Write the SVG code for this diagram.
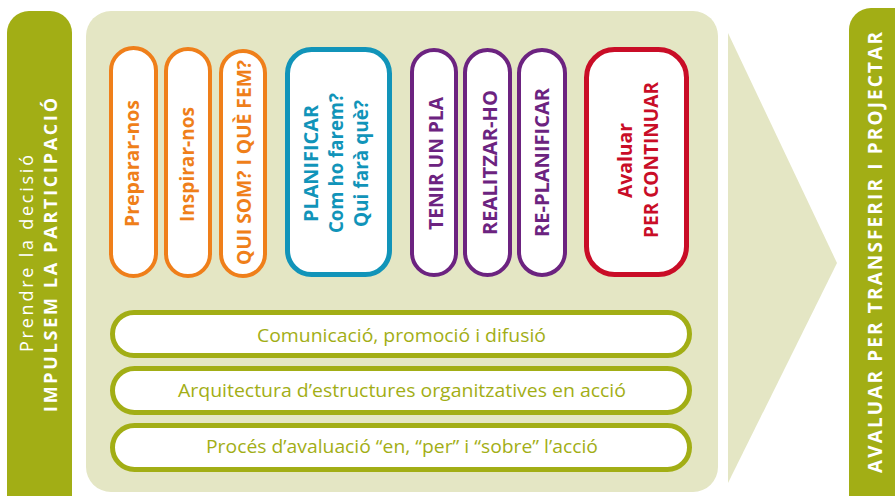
<svg xmlns="http://www.w3.org/2000/svg" width="895" height="496" viewBox="0 0 895 496">
<style>
.bar{fill:#a2ae15}
.panel{fill:#e4e6c4}
.pill{fill:#fff}
.or{stroke:#ef7f1a;stroke-width:4}
.bl{stroke:#1194b9;stroke-width:5}
.pu{stroke:#6c2380;stroke-width:4}
.rd{stroke:#c90d27;stroke-width:5}
.gr{stroke:#a2ae15;stroke-width:5}
text{font-family:"Open Sans","Noto Sans",sans-serif}
.vt{font-weight:bold;font-size:20px;text-anchor:middle}
.tor{fill:#ef7f1a}
.tbl{fill:#1194b9}
.tpu{fill:#6c2380}
.trd{fill:#c90d27}
.tg{fill:#a2ae15;font-size:19px;text-anchor:middle}
.tw{fill:#fff;text-anchor:middle}
</style>
<g id="left-bar">
<rect class="bar" x="7" y="11" width="65" height="520" rx="22"/>
<text class="tw" transform="translate(33,253.5) rotate(-90)" font-size="18" textLength="197" lengthAdjust="spacing">Prendre la decisió</text>
<text class="tw" transform="translate(57,255) rotate(-90)" font-size="18" font-weight="bold" textLength="314" lengthAdjust="spacing">IMPULSEM LA PARTICIPACIÓ</text>
</g>
<g id="panel">
<rect class="panel" x="86" y="11" width="632" height="481" rx="25"/>
</g>
<g id="arrow">
<polygon class="panel" points="728,33 837,263 728,483"/>
</g>
<g id="right-bar">
<rect class="bar" x="849" y="8" width="70" height="520" rx="22"/>
<text class="tw" transform="translate(882,252.5) rotate(-90)" font-size="19" font-weight="bold" textLength="441" lengthAdjust="spacing">AVALUAR PER TRANSFERIR I PROJECTAR</text>
</g>
<g id="preparar">
<rect class="pill or" x="111" y="48" width="45" height="228" rx="22.5"/>
<text class="vt tor" transform="translate(139,163.5) rotate(-90)" textLength="127" lengthAdjust="spacingAndGlyphs">Preparar-nos</text>
</g>
<g id="inspirar">
<rect class="pill or" x="166" y="49" width="44" height="227" rx="22"/>
<text class="vt tor" transform="translate(194,164.5) rotate(-90)" textLength="115" lengthAdjust="spacingAndGlyphs">Inspirar-nos</text>
</g>
<g id="quisom">
<rect class="pill or" x="221" y="51" width="44" height="225" rx="22"/>
<text class="vt tor" transform="translate(251,162.5) rotate(-90)" textLength="205" lengthAdjust="spacingAndGlyphs">QUI SOM? I QUÈ FEM?</text>
</g>
<g id="planificar">
<rect class="pill bl" x="287.5" y="49.5" width="102" height="225" rx="24"/>
<text class="vt tbl" transform="translate(318,163.5) rotate(-90)" textLength="117" lengthAdjust="spacingAndGlyphs">PLANIFICAR</text>
<text class="vt tbl" transform="translate(343,163) rotate(-90)" textLength="140" lengthAdjust="spacingAndGlyphs">Com ho farem?</text>
<text class="vt tbl" transform="translate(368,163.5) rotate(-90)" textLength="127" lengthAdjust="spacingAndGlyphs">Qui farà què?</text>
</g>
<g id="tenir">
<rect class="pill pu" x="412" y="50" width="44" height="225" rx="22"/>
<text class="vt tpu" transform="translate(443,163.5) rotate(-90)" textLength="133" lengthAdjust="spacingAndGlyphs">TENIR UN PLA</text>
</g>
<g id="realitzar">
<rect class="pill pu" x="465" y="50" width="45" height="225" rx="22.5"/>
<text class="vt tpu" transform="translate(497,162.5) rotate(-90)" textLength="145" lengthAdjust="spacingAndGlyphs">REALITZAR-HO</text>
</g>
<g id="replanificar">
<rect class="pill pu" x="519" y="50" width="46" height="225" rx="23"/>
<text class="vt tpu" transform="translate(549,162.5) rotate(-90)" textLength="149" lengthAdjust="spacingAndGlyphs">RE-PLANIFICAR</text>
</g>
<g id="avaluar">
<rect class="pill rd" x="586.5" y="49.5" width="100" height="225" rx="28"/>
<text class="vt trd" transform="translate(632,160.5) rotate(-90)" textLength="75" lengthAdjust="spacingAndGlyphs">Avaluar</text>
<text class="vt trd" transform="translate(658,160) rotate(-90)" textLength="156" lengthAdjust="spacingAndGlyphs">PER CONTINUAR</text>
</g>
<g id="comunicacio">
<rect class="pill gr" x="112.5" y="312.5" width="577" height="43" rx="21.5"/>
<text class="tg" x="401.5" y="342" textLength="289" lengthAdjust="spacingAndGlyphs">Comunicació, promoció i difusió</text>
</g>
<g id="arquitectura">
<rect class="pill gr" x="112.5" y="368.5" width="577" height="44" rx="22"/>
<text class="tg" x="402" y="397" textLength="448" lengthAdjust="spacingAndGlyphs">Arquitectura d’estructures organitzatives en acció</text>
</g>
<g id="proces">
<rect class="pill gr" x="112.5" y="425.5" width="577" height="44" rx="22"/>
<text class="tg" x="402" y="453" textLength="392" lengthAdjust="spacingAndGlyphs">Procés d’avaluació “en, “per” i “sobre” l’acció</text>
</g>
<g id="connectors"/>
</svg>
